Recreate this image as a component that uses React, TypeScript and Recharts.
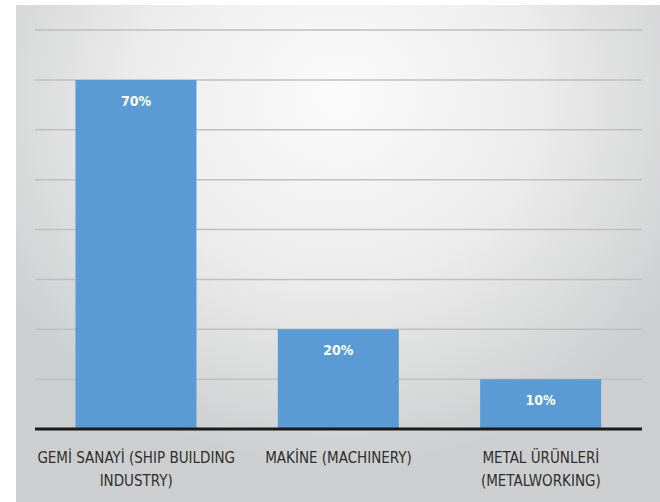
import { BarChart, Bar, XAxis, YAxis, CartesianGrid, LabelList } from "recharts";

const categories = ["GEMİ SANAYİ (SHIP BUILDING INDUSTRY)", "MAKİNE (MACHINERY)", "METAL ÜRÜNLERİ (METALWORKING)"];
const shares = [70, 20, 10];
const tickLines = [
  ["GEMİ SANAYİ (SHIP BUILDING", "INDUSTRY)"],
  ["MAKİNE (MACHINERY)"],
  ["METAL ÜRÜNLERİ", "(METALWORKING)"],
];
const yTicks = [0, 10, 20, 30, 40, 50, 60, 70, 80];

const data = categories.map((name, i) => ({ name, share: shares[i], idx: i }));

const FONT = '"Liberation Sans Narrow", "DejaVu Sans Condensed", "Open Sans", sans-serif';

function CategoryTick(props: any) {
  const { x, y, index } = props;
  const lines = tickLines[index] ?? [];
  return (
    <g transform={`translate(${x},${y})`}>
      {lines.map((line, i) => (
        <text
          key={i}
          x={0}
          y={26 + i * 23}
          textAnchor="middle"
          fill="#2e2e2e"
          fontSize={15}
          fontWeight={500}
          fontFamily={FONT}
        >
          {line}
        </text>
      ))}
    </g>
  );
}

export default function App() {
  return (
    <div style={{ position: "fixed", left: 0, top: 0, width: 660, height: 502, background: "#fff" }}>
      <div
        style={{
          position: "absolute",
          left: 16,
          top: 5,
          width: 644,
          height: 497,
          background:
            "radial-gradient(ellipse 62% 75% at 50% 18%, #fbfbfb 0%, #ececec 50%, #cdcecf 100%)",
        }}
      >
        <BarChart
          width={644}
          height={497}
          data={data}
          margin={{ top: 25, right: 18, bottom: 13, left: 19 }}
          barCategoryGap="20%"
        >
          <CartesianGrid vertical={false} stroke="#bfbfbf" strokeWidth={1.5} />
          <YAxis hide domain={[0, 80]} ticks={yTicks} />
          <XAxis
            dataKey="name"
            height={60}
            axisLine={{ stroke: "#1a1a1a", strokeWidth: 3 }}
            tickLine={false}
            tick={<CategoryTick />}
            interval={0}
          />
          <Bar dataKey="share" fill="#5b9bd5" isAnimationActive={false}>
            <LabelList
              dataKey="share"
              position="insideTop"
              offset={16}
              formatter={(v: any) => `${v}%`}
              fill="#ffffff"
              fontSize={14}
              fontWeight="bold"
              fontFamily={FONT}
            />
          </Bar>
        </BarChart>
      </div>
    </div>
  );
}
